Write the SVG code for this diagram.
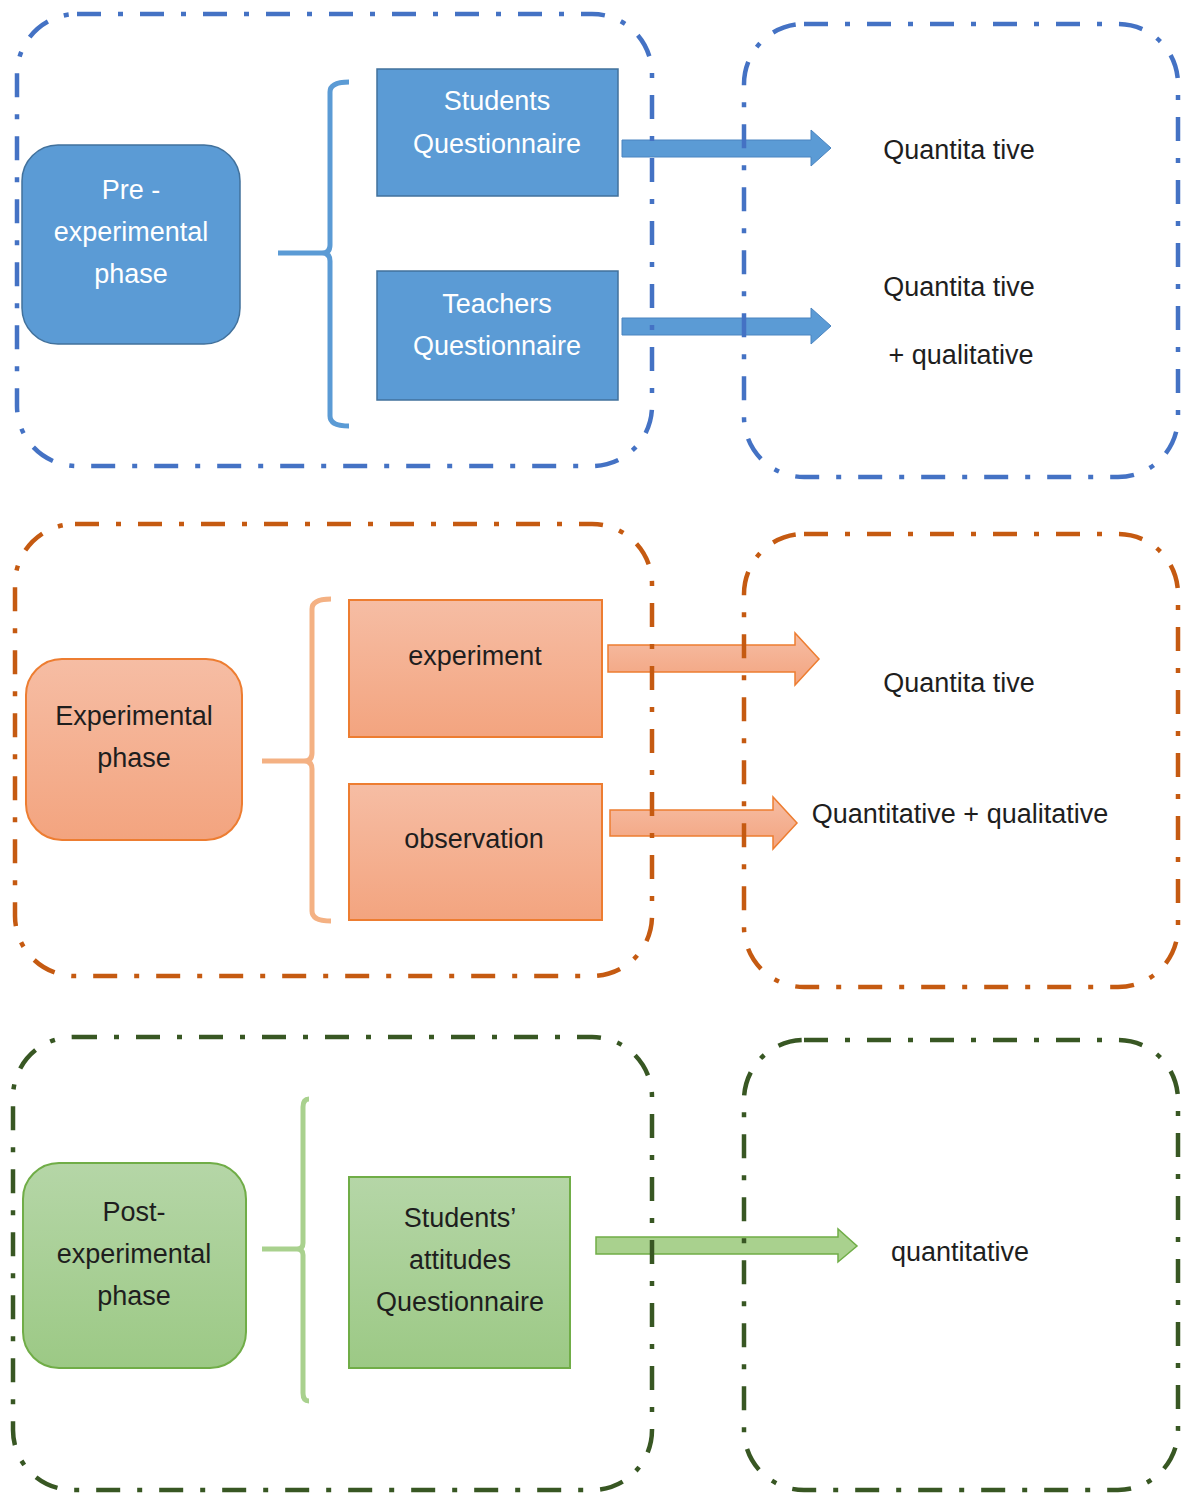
<svg xmlns="http://www.w3.org/2000/svg" width="1182" height="1493" viewBox="0 0 1182 1493">
<defs>
<linearGradient id="gOr" x1="0" y1="0" x2="0" y2="1"><stop offset="0" stop-color="#F6BDA4"/><stop offset="1" stop-color="#F3A47F"/></linearGradient>
<linearGradient id="gGr" x1="0" y1="0" x2="0" y2="1"><stop offset="0" stop-color="#B5D6A7"/><stop offset="1" stop-color="#9CC985"/></linearGradient>
<style>
.frame{fill:none;stroke-width:4.5;stroke-dasharray:24 17 5 17}
.fb{stroke:#4472C4}.fo{stroke:#C55A11}.fg{stroke:#385723}
.t{font-family:"Liberation Sans",Arial,sans-serif;font-size:27px;text-anchor:middle}
.w{fill:#FFFFFF}.k{fill:#1E1E1E}
.brk{fill:none;stroke-width:5;stroke-linecap:butt}
</style>
</defs>
<rect width="1182" height="1493" fill="#FFFFFF"/>

<g id="connectors">
<path class="brk" stroke="#5B9BD5" d="M349,82 Q330,82 330,92 L330,245 Q330,253 322,253 L278,253 M322,253 Q330,253 330,261 L330,416 Q330,426 349,426"/>
<path class="brk" stroke="#F4B183" d="M331,599 Q312,599 312,609 L312,753 Q312,761 304,761 L262,761 M304,761 Q312,761 312,769 L312,911 Q312,921 331,921"/>
<path class="brk" stroke="#A9D18E" d="M309,1099 Q303,1099 303,1107 L303,1243 Q303,1249 297,1249 L262,1249 M297,1249 Q303,1249 303,1255 L303,1393 Q303,1401 309,1401"/>
<path fill="#5B9BD5" stroke="#4A84C0" stroke-width="1" d="M622,140 L811,140 L811,130 L831,148 L811,166 L811,157 L622,157 Z"/>
<path fill="#5B9BD5" stroke="#4A84C0" stroke-width="1" d="M622,318 L811,318 L811,308 L831,326 L811,344 L811,335 L622,335 Z"/>
<path fill="url(#gOr)" stroke="#ED7D31" stroke-width="1.5" d="M608,645 L795,645 L795,633 L819,659 L795,685 L795,672 L608,672 Z"/>
<path fill="url(#gOr)" stroke="#ED7D31" stroke-width="1.5" d="M610,810 L773,810 L773,797 L797,823 L773,849 L773,836 L610,836 Z"/>
<path fill="#A9D18E" stroke="#70AD47" stroke-width="1.5" d="M596,1237 L838,1237 L838,1229 L857,1246 L838,1262 L838,1254 L596,1254 Z"/>
</g>

<g id="pre-phase">
<rect x="22" y="145" width="218" height="199" rx="36" fill="#5B9BD5" stroke="#41719C" stroke-width="1.5"/>
<text class="t w" x="131" y="199">Pre -</text>
<text class="t w" x="131" y="241">experimental</text>
<text class="t w" x="131" y="283">phase</text>
</g>
<g id="students-q">
<rect x="377" y="69" width="241" height="127" fill="#5B9BD5" stroke="#41719C" stroke-width="1.5"/>
<text class="t w" x="497" y="110">Students</text>
<text class="t w" x="497" y="153">Questionnaire</text>
</g>
<g id="teachers-q">
<rect x="377" y="271" width="241" height="129" fill="#5B9BD5" stroke="#41719C" stroke-width="1.5"/>
<text class="t w" x="497" y="313">Teachers</text>
<text class="t w" x="497" y="355">Questionnaire</text>
</g>
<g id="out-blue">
<text class="t k" x="959" y="159">Quantita tive</text>
<text class="t k" x="959" y="296">Quantita tive</text>
<text class="t k" x="961" y="364">+ qualitative</text>
</g>

<g id="exp-phase">
<rect x="26" y="659" width="216" height="181" rx="36" fill="url(#gOr)" stroke="#ED7D31" stroke-width="2"/>
<text class="t k" x="134" y="725">Experimental</text>
<text class="t k" x="134" y="767">phase</text>
</g>
<g id="experiment">
<rect x="349" y="600" width="253" height="137" fill="url(#gOr)" stroke="#ED7D31" stroke-width="2"/>
<text class="t k" x="475" y="665">experiment</text>
</g>
<g id="observation">
<rect x="349" y="784" width="253" height="136" fill="url(#gOr)" stroke="#ED7D31" stroke-width="2"/>
<text class="t k" x="474" y="848">observation</text>
</g>
<g id="out-orange">
<text class="t k" x="959" y="692">Quantita tive</text>
<text class="t k" x="960" y="823">Quantitative + qualitative</text>
</g>

<g id="post-phase">
<rect x="23" y="1163" width="223" height="205" rx="36" fill="url(#gGr)" stroke="#70AD47" stroke-width="2"/>
<text class="t k" x="134" y="1221">Post-</text>
<text class="t k" x="134" y="1263">experimental</text>
<text class="t k" x="134" y="1305">phase</text>
</g>
<g id="attitudes-q">
<rect x="349" y="1177" width="221" height="191" fill="url(#gGr)" stroke="#70AD47" stroke-width="2"/>
<text class="t k" x="460" y="1227">Students’</text>
<text class="t k" x="460" y="1269">attitudes</text>
<text class="t k" x="460" y="1311">Questionnaire</text>
</g>
<g id="out-green">
<text class="t k" x="960" y="1261">quantitative</text>
</g>

<g id="frames">
<rect class="frame fb" x="17" y="14" width="635" height="452" rx="60"/>
<rect class="frame fb" x="744" y="24" width="434" height="453" rx="60"/>
<rect class="frame fo" x="15" y="524" width="637" height="452" rx="60"/>
<rect class="frame fo" x="744" y="534" width="434" height="453" rx="60"/>
<rect class="frame fg" x="13" y="1037" width="639" height="453" rx="60"/>
<rect class="frame fg" x="744" y="1040" width="434" height="450" rx="60"/>
</g>
</svg>
